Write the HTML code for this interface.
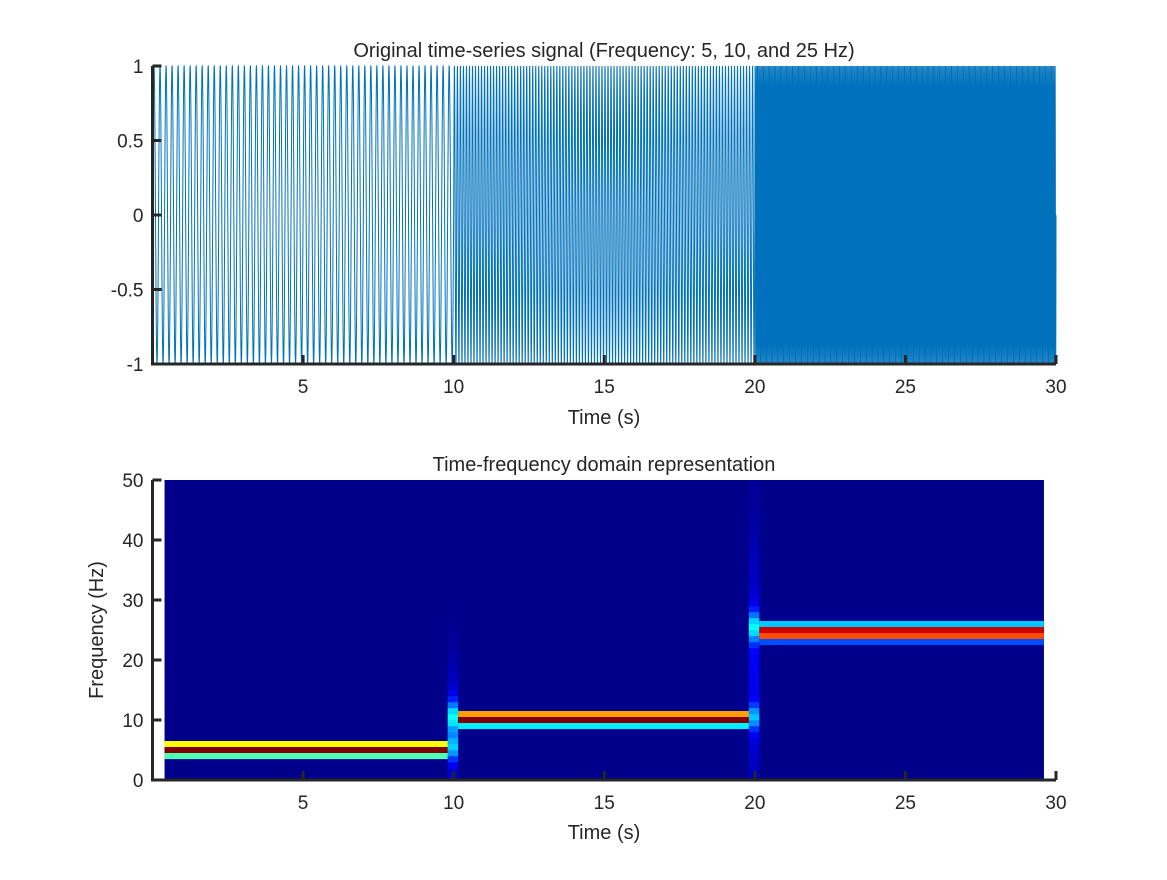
<!DOCTYPE html>
<html><head><meta charset="utf-8"><style>
body{margin:0;background:#fff;}
svg text{font-family:"Liberation Sans",sans-serif;fill:#262626;}
</style></head><body>
<svg id="c" width="1167" height="875" xmlns="http://www.w3.org/2000/svg">
<rect width="1167" height="875" fill="#fff"/>
</svg>
<script>
const segBounds=[0,10,20,30];
const segFreqs=[5,10,25];
const xTicks=[5,10,15,20,25,30];
const yTicksTop=[-1,-0.5,0,0.5,1];
const yTicksBot=[0,10,20,30,40,50];
// heatmap band rows per segment: frequency offsets and jet intensities
const bandFreqs=[[6,5,4],[11,10,9],[26,25,24,23]];
const bandVals=[[0.62,1.0,0.45],[0.72,1.0,0.36],[0.32,0.92,0.8,0.2]];
const hmStart=0.4, hmEnd=29.6;

const NS="http://www.w3.org/2000/svg";
const svg=document.getElementById('c');
function el(t,a,p){const e=document.createElementNS(NS,t);for(const k in a)e.setAttribute(k,a[k]);(p||svg).appendChild(e);return e;}
const xs=t=>152.5+t*(1056-152.5)/30;
const yTop=v=>215-v*149;
const yBot=f=>780-f*6;
function jet(v){v=Math.max(0,Math.min(1,v));const r=Math.max(0,Math.min(1,1.5-Math.abs(4*v-3))),g=Math.max(0,Math.min(1,1.5-Math.abs(4*v-2))),b=Math.max(0,Math.min(1,1.5-Math.abs(4*v-1)));return `rgb(${Math.round(r*255)},${Math.round(g*255)},${Math.round(b*255)})`;}

// top signal
let pts=[];const fs=1000;
for(let i=0;i<=30*fs;i++){const t=i/fs;let s=0;for(let k=0;k<segFreqs.length;k++){if(t>=segBounds[k]&&(t<segBounds[k+1]||k==segFreqs.length-1&&t<=segBounds[k+1]))s=Math.sin(2*Math.PI*segFreqs[k]*t);}pts.push(xs(t).toFixed(2)+","+yTop(s).toFixed(2));}
const line=el('polyline',{points:pts.join(' '),fill:'none',stroke:'#0072BD','stroke-width':1});



// heatmap
const hm=el('g',{});


el('rect',{x:xs(hmStart),y:yBot(50),width:xs(hmEnd)-xs(hmStart),height:300,fill:jet(0.01)},hm);
for(let k=0;k<segFreqs.length;k++){
  const t0=Math.max(segBounds[k],hmStart)+ (k>0?0.15:0), t1=Math.min(segBounds[k+1],hmEnd);
  if(k>0){const fa=segFreqs[k-1],fb=segFreqs[k];
    for(let f=0;f<50;f++){
      const v=0.01+0.28*Math.exp(-Math.pow((f-fb)/2.5,2))+0.22*Math.exp(-Math.pow((f-fa)/2,2))+0.1*Math.exp(-Math.pow((f-(fa+fb)/2)/(fb-fa+6),2));
      el('rect',{x:xs(segBounds[k]-0.2),y:yBot(f+1),width:xs(segBounds[k]+0.15)-xs(segBounds[k]-0.2),height:6.2,fill:jet(v)},hm);}}
  for(let j=0;j<bandFreqs[k].length;j++){
    const f=bandFreqs[k][j];
    const r=el('rect',{x:xs(t0),y:yBot(f+0.5),width:xs(t1)-xs(t0),height:6.1,fill:jet(bandVals[k][j])},hm);
    
    
  }
}

// axes
function axes(x0,x1,y0,y1,yt,yf,name){
  const g=el('g',{});
  
  
  el('path',{d:`M${x0},${y0}V${y1}H${x1}`,stroke:'#262626','stroke-width':3,fill:'none'},g);
  xTicks.forEach(t=>{const x=xs(t);el('line',{x1:x,x2:x,y1:y1,y2:y1-9,stroke:'#262626','stroke-width':3},g);
    const tx=el('text',{x:x,y:y1+29,'text-anchor':'middle','font-size':19},g);tx.textContent=t;
    });
  yt.forEach(v=>{const y=yf(v);el('line',{x1:x0,x2:x0+9,y1:y,y2:y,stroke:'#262626','stroke-width':3},g);
    const tx=el('text',{x:x0-9,y:y+7,'text-anchor':'end','font-size':19},g);tx.textContent=v;
    });
}
axes(152.5,1056,66,364,yTicksTop,yTop,'top-axes');
axes(152.5,1056,480,780,yTicksBot,yBot,'bottom-axes');

function txt(s,x,y,size,name,rot){const t=el('text',{x:x,y:y,'text-anchor':'middle','font-size':size});t.textContent=s;
  if(rot)t.setAttribute('transform',`rotate(-90 ${x} ${y})`);
  }
txt('Original time-series signal (Frequency: 5, 10, and 25 Hz)',604,57,20,'top-title');
txt('Time (s)',604,424,20,'top-x-axis-title');
txt('Time-frequency domain representation',604,471,20,'bottom-title');
txt('Time (s)',604,839,20,'bottom-x-axis-title');
txt('Frequency (Hz)',103,630,20,'bottom-y-axis-title',true);
</script>
</body></html>
